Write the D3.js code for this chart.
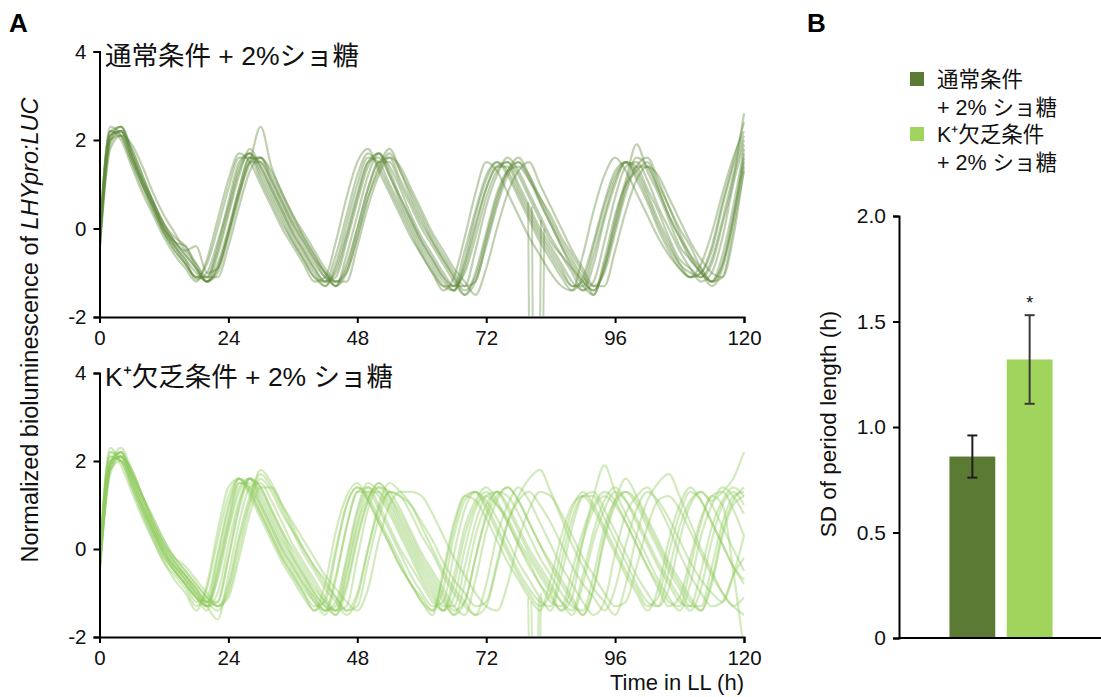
<!DOCTYPE html>
<html><head><meta charset="utf-8">
<script src="https://cdn.jsdelivr.net/npm/d3@7"></script>
<style>
body{margin:0;background:#fff;}
svg{font-family:"Liberation Sans","Noto Sans CJK JP",Arial,sans-serif;}
</style></head>
<body><svg id="c" width="1101" height="697"></svg>
<script>
// ---------- data ----------
const hours = [0,2,4,6,8,10,12,14,16,18,20,22,24,26,28,30,32,34,36,38,40,42,44,46,48,50,52,54,56,58,60,62,64,66,68,70,72,74,76,78,80,82,84,86,88,90,92,94,96,98,100,102,104,106,108,110,112,114,116,118,120];
const xTicks = [0,24,48,72,96,120];
const yTicksA = [-2,0,2,4];

// 通常条件 + 2% ショ糖 (normal)
const n01=[-0.4,2.1,2.2,1.6,1.0,0.5,0.0,-0.4,-0.7,-1.15,-1.0,-0.3,0.5,1.4,1.7,1.3,0.8,0.3,-0.2,-0.6,-1.0,-1.3,-0.9,-0.1,0.8,1.5,1.6,1.2,0.6,0.1,-0.4,-0.8,-1.2,-1.4,-0.8,0.1,0.9,1.4,1.4,0.9,0.4,-0.1,-0.5,-0.9,-1.3,-1.3,-0.6,0.3,1.1,1.5,1.3,0.8,0.2,-0.3,-0.8,-1.0,-1.1,-0.7,0.2,1.2,2.0];
const n02=[-0.3,2.3,2.1,1.5,0.9,0.4,-0.1,-0.5,-0.8,-1.1,-0.8,0.0,0.9,1.6,1.6,1.1,0.6,0.1,-0.3,-0.7,-1.1,-1.2,-0.6,0.3,1.2,1.7,1.4,0.9,0.4,-0.1,-0.6,-1.0,-1.3,-1.3,-0.5,0.4,1.2,1.5,1.2,0.7,0.2,-0.3,-0.7,-1.1,-1.4,-1.1,-0.3,0.6,1.3,1.5,1.1,0.6,0.0,-0.5,-0.9,-1.1,-1.0,-0.4,0.6,1.5,2.4];
const n03=[-0.5,1.9,2.2,1.8,1.2,0.6,0.1,-0.3,-0.6,-0.9,-1.2,-0.8,0.0,0.9,1.6,1.6,1.1,0.6,0.1,-0.3,-0.7,-1.0,-1.3,-0.8,0.0,0.9,1.5,1.6,1.1,0.6,0.1,-0.3,-0.7,-1.1,-1.5,-1.2,-0.4,0.5,1.2,1.5,1.1,0.6,0.1,-0.4,-0.8,-1.2,-1.4,-0.9,0.0,0.9,1.4,1.4,0.9,0.3,-0.2,-0.6,-0.9,-1.2,-0.8,0.3,1.5];
const n04=[-0.2,2.2,2.3,1.7,1.1,0.6,0.0,-0.3,-0.4,-0.9,-1.2,-0.9,-0.1,0.8,1.5,2.3,1.4,0.8,0.3,-0.2,-0.6,-1.0,-1.3,-1.0,-0.2,0.7,1.4,1.8,1.3,0.7,0.2,-0.3,-0.7,-1.1,-1.4,-1.1,-0.2,0.7,1.3,1.6,1.2,0.6,0.1,-0.4,-0.9,-1.3,-1.5,-0.8,0.1,1.0,1.6,1.4,0.9,0.3,-0.2,-0.7,-1.0,-1.2,-0.6,0.5,1.8];
const n05=[-0.4,2.2,2.0,1.4,0.8,0.3,-0.2,-0.6,-0.9,-1.2,-0.7,0.2,1.1,1.7,1.5,1.0,0.5,0.0,-0.4,-0.8,-1.2,-1.1,-0.3,0.7,1.5,1.8,1.3,0.8,0.3,-0.2,-0.6,-1.0,-1.4,-1.1,-0.2,0.8,1.5,1.3,0.8,0.3,-0.2,-0.6,-1.0,-1.3,-1.4,-0.6,0.4,1.2,1.6,1.3,0.8,0.3,-0.2,-0.6,-0.9,-1.1,-0.8,-0.1,0.8,1.6,2.2];
const n06=[-0.6,1.8,2.1,1.9,1.4,0.8,0.3,-0.1,-0.5,-0.8,-1.1,-1.1,-0.4,0.5,1.3,1.6,1.3,0.8,0.3,-0.1,-0.5,-0.9,-1.2,-1.2,-0.4,0.5,1.2,1.6,1.4,0.9,0.4,-0.1,-0.5,-0.9,-1.2,-1.5,-0.9,0.0,0.8,1.3,1.5,1.0,0.5,0.0,-0.5,-0.9,-1.3,-1.3,-0.5,0.4,1.1,1.4,1.2,0.7,0.2,-0.3,-0.7,-1.0,-1.1,-0.2,1.4];
const n07=[-0.3,2.0,2.3,1.7,1.0,0.5,-0.1,-0.4,-0.8,-1.1,-1.1,-0.5,0.4,1.3,1.7,1.4,0.9,0.4,-0.1,-0.5,-0.9,-1.2,-1.1,-0.3,0.6,1.4,1.7,1.3,0.7,0.2,-0.3,-0.7,-1.1,-1.3,-1.0,-0.2,0.7,1.3,1.5,1.2,0.7,0.2,-0.3,-0.6,-0.9,-1.2,-1.4,-0.9,0.2,1.1,1.9,1.3,0.8,0.2,-0.4,-0.7,-1.0,-1.3,-0.9,0.2,1.6];
const n08=[-0.5,2.0,2.1,1.6,1.1,0.6,0.1,-0.2,-0.4,-0.8,-1.2,-1.0,-0.2,0.7,1.5,1.5,1.1,0.6,0.1,-0.3,-0.7,-1.1,-1.2,-0.9,0.0,0.9,1.5,1.5,1.0,0.5,0.0,-0.4,-0.8,-1.2,-1.5,-1.0,-0.1,0.8,1.3,1.4,1.1,0.7,0.3,-0.2,-0.6,-1.0,-1.5,-0.7,0.3,1.0,1.3,1.5,1.0,0.5,-0.1,-0.6,-1.0,-1.2,-0.8,0.2,1.7];
const n09=[-0.2,2.1,2.2,1.6,1.0,0.4,-0.1,-0.5,-0.8,-1.1,-1.1,-0.4,0.6,1.5,1.7,1.2,0.7,0.2,-0.3,-0.7,-1.1,-1.3,-0.8,0.1,1.0,1.6,1.5,1.0,0.5,0.0,-0.5,-0.9,-1.3,-1.4,-0.7,0.3,1.1,1.5,1.3,0.8,0.3,-0.2,-0.6,-1.0,-1.3,-1.2,-0.4,0.5,1.2,1.5,1.2,0.7,0.1,-0.4,-0.8,-1.1,-1.0,-0.5,0.5,1.4,2.1];
const n10=[-0.4,2.0,2.2,1.7,1.1,0.5,0.0,-0.3,-0.5,-0.4,-1.0,-0.9,-0.1,0.9,1.6,1.5,1.0,0.5,0.0,-0.4,-0.8,-1.1,-1.3,-0.6,0.3,1.2,1.7,1.4,0.9,0.3,-0.2,-0.6,-1.0,-1.3,-1.3,-0.5,0.5,1.2,1.6,1.3,0.8,0.3,-0.2,-0.6,-1.0,-1.4,-1.2,-0.3,0.7,1.4,1.5,1.1,0.5,0.0,-0.5,-0.9,-1.2,-1.0,-0.2,1.0,1.9];
const n11=[-0.3,2.2,2.1,1.5,1.0,0.5,0.0,-0.4,-0.7,-1.0,-1.2,-0.6,0.3,1.2,1.8,1.4,0.9,0.4,-0.1,-0.5,-0.9,-1.2,-1.0,-0.2,0.7,1.5,1.7,1.2,0.7,0.2,-0.3,-0.7,-1.1,-1.4,-0.9,0.0,0.9,1.4,1.5,1.0,0.5,0.0,-0.4,-0.8,-1.2,-1.4,-0.8,0.2,1.0,1.5,1.4,0.9,0.4,-0.2,-0.7,-0.9,-1.1,-0.8,0.1,1.1,2.6];
const n12=[-0.5,2.1,2.3,1.8,1.2,0.6,0.1,-0.3,-0.6,-0.9,-1.2,-0.9,-0.1,0.8,1.5,1.6,1.2,0.7,0.2,-0.2,-0.6,-1.0,-1.2,-1.0,-0.2,0.7,1.3,1.7,1.3,0.8,0.3,-0.2,-0.6,-1.0,-1.3,-1.2,-0.3,0.6,1.3,1.5,1.2,0.7,0.2,-0.3,-0.7,-1.1,-1.3,-1.0,-0.1,0.8,1.4,1.6,1.1,0.5,0.0,-0.4,-0.9,-1.2,-1.1,0.0,1.3];
const normalTraces=[n01,n02,n03,n04,n05,n06,n07,n08,n09,n10,n11,n12];
// signal dropouts (time, value) in the normal group
const normalDropA=[[79.8,0.6],[80.0,-2.6],[82.0,-2.6],[82.2,0.2]];
const normalDropB=[[80.5,0.5],[80.7,-2.6],[82.6,-2.6],[82.8,0.0]];

// K+欠乏条件 + 2% ショ糖 (K+ deficient)
const k01=[-0.5,1.9,2.1,1.5,0.9,0.3,-0.2,-0.5,-0.8,-1.1,-1.3,-0.5,0.6,1.5,1.5,1.0,0.5,0.0,-0.4,-0.8,-1.1,-1.4,-1.3,-0.3,0.8,1.4,1.2,0.8,0.3,-0.2,-0.7,-1.1,-1.4,-0.8,0.3,1.0,1.3,1.0,0.6,0.1,-0.4,-0.8,-1.2,-1.3,-0.5,0.4,1.0,1.3,1.1,0.6,0.1,-0.4,-0.9,-1.3,-1.1,-0.2,0.7,1.2,1.3,0.9,0.3];
const k02=[-0.4,2.1,2.0,1.4,0.8,0.2,-0.3,-0.6,-0.9,-1.3,-0.9,0.2,1.2,1.6,1.3,0.8,0.3,-0.2,-0.6,-1.0,-1.4,-1.1,0.0,1.0,1.4,1.1,0.6,0.1,-0.4,-0.8,-1.2,-1.4,-0.6,0.5,1.2,1.3,0.9,0.4,-0.1,-0.6,-1.0,-1.3,-1.0,0.0,0.9,1.3,1.0,0.5,0.0,-0.5,-0.9,-1.3,-1.1,-0.1,0.8,1.3,1.1,0.6,0.1,-0.4,-0.8];
const k03=[-0.6,1.8,2.2,1.7,1.1,0.5,0.0,-0.4,-0.7,-1.0,-1.3,-1.2,-0.2,0.9,1.6,1.4,0.9,0.4,-0.1,-0.5,-0.9,-1.2,-1.5,-0.9,0.2,1.1,1.5,1.2,0.7,0.2,-0.3,-0.7,-1.1,-1.5,-1.2,-0.2,0.8,1.3,1.2,0.8,0.3,-0.2,-0.6,-1.0,-1.3,-1.4,-0.6,0.5,1.1,1.3,1.0,0.5,0.0,-0.5,-0.9,-1.3,-1.3,-0.4,0.6,1.2,1.3];
const k04=[-0.5,1.7,2.1,1.8,1.2,0.6,0.1,-0.3,-0.6,-0.9,-1.2,-1.4,-0.9,0.2,1.1,1.8,1.5,1.0,0.5,0.0,-0.4,-0.8,-1.1,-1.4,-1.3,-0.3,0.7,1.3,1.2,0.8,0.3,-0.1,-0.6,-1.0,-1.3,-1.5,-0.8,0.3,1.0,1.4,1.1,0.6,0.1,-0.4,-0.8,-1.2,-1.5,-1.2,-0.1,0.8,1.2,1.4,1.0,0.5,-0.1,-0.6,-1.0,-1.3,-1.2,-0.6,-0.2];
const k05=[-0.3,2.2,2.0,1.5,0.9,0.4,-0.1,-0.4,-0.6,-1.0,-1.2,-0.7,0.4,1.3,1.6,1.2,0.7,0.2,-0.2,-0.6,-1.0,-1.3,-1.4,-0.5,0.6,1.3,1.3,1.0,0.5,0.0,-0.5,-0.9,-1.3,-1.3,-0.4,0.6,1.2,1.3,0.9,0.4,-0.1,-0.5,-0.9,-1.2,-1.4,-0.6,0.4,1.1,1.4,1.1,0.6,0.1,-0.4,-0.8,-1.2,-1.3,-0.5,0.5,1.1,1.4,1.2];
const k06=[-0.6,2.0,2.2,1.6,1.0,0.4,-0.1,-0.5,-0.8,-1.1,-1.2,-0.2,0.9,1.6,1.4,0.9,0.4,-0.1,-0.5,-0.9,-1.2,-1.5,-0.7,0.5,1.3,1.3,0.9,0.4,-0.1,-0.6,-1.0,-1.3,-1.2,-0.1,0.9,1.3,1.1,0.7,0.2,-0.3,-0.7,-1.1,-1.4,-0.6,0.5,1.2,1.3,0.9,0.4,-0.1,-0.6,-1.0,-1.3,-0.9,0.2,1.0,1.3,1.0,0.5,0.0,-0.5];
const k07=[-0.4,1.9,2.3,1.8,1.2,0.6,0.1,-0.2,-0.4,-0.7,-1.0,-1.3,-1.0,0.0,1.0,1.6,1.3,0.8,0.4,0.0,-0.4,-0.7,-1.1,-1.4,-1.0,0.0,0.9,1.3,1.2,1.0,0.6,0.2,-0.3,-0.7,-1.0,-1.3,-1.2,-0.3,0.6,1.1,1.3,1.0,0.6,0.1,-0.4,-0.8,-1.1,-1.4,-0.9,0.1,0.9,1.3,1.1,0.7,0.2,-0.3,-0.7,-1.0,-1.2,-0.6,0.3];
const k08=[-0.2,2.3,1.9,1.3,0.7,0.2,-0.3,-0.7,-1.0,-1.4,-0.8,0.4,1.4,1.6,1.2,0.7,0.2,-0.3,-0.7,-1.1,-1.4,-0.8,0.4,1.2,1.5,1.1,0.6,0.1,-0.4,-0.8,-1.2,-1.5,-0.5,0.6,1.2,1.1,0.7,0.2,-0.3,-0.7,-1.1,-1.4,-0.7,0.3,1.0,1.2,0.9,0.4,-0.1,-0.6,-1.0,-1.4,-0.9,0.2,1.0,1.4,1.1,0.6,0.1,-0.4,-0.7];
const k09=[-0.5,1.8,2.0,1.7,1.2,0.7,0.2,-0.2,-0.5,-0.8,-1.1,-1.3,-0.8,0.3,1.2,1.7,1.4,0.9,0.4,-0.1,-0.5,-0.9,-1.2,-1.5,-1.1,0.0,1.0,1.5,1.3,1.0,0.5,0.0,-0.5,-0.9,-1.2,-1.5,-1.3,-0.4,0.6,1.2,1.6,1.8,1.3,0.7,0.1,-0.4,-0.9,-1.2,-1.5,-0.8,0.3,1.1,1.5,1.7,1.2,0.6,0.0,-0.5,-1.0,-1.3,-1.5];
const k10=[-0.3,2.0,2.1,1.5,0.9,0.4,-0.1,-0.4,-0.7,-1.1,-1.4,-0.6,0.5,1.4,1.6,1.1,0.6,0.1,-0.3,-0.7,-1.1,-1.4,-1.2,-0.2,0.9,1.5,1.3,0.9,0.4,-0.1,-0.6,-1.0,-1.4,-1.1,0.0,0.9,1.2,1.0,0.7,0.2,-0.2,-0.6,-1.0,-1.4,-1.1,0.2,1.2,1.9,1.3,0.8,0.3,-0.2,-0.7,-1.1,-1.4,-0.8,0.3,1.0,1.4,1.2,0.8];
const k11=[-0.4,2.1,2.0,1.4,0.8,0.3,-0.2,-0.5,-0.8,-1.2,-1.1,-0.1,1.0,1.6,1.3,0.8,0.3,-0.2,-0.6,-1.0,-1.3,-1.2,-0.1,1.0,1.4,1.2,0.7,0.2,-0.3,-0.8,-1.1,-1.4,-0.9,0.3,1.1,1.3,1.0,0.5,0.0,-0.5,-0.9,-1.2,-1.3,-0.3,0.7,1.2,1.2,0.7,0.2,-0.3,-0.8,-1.2,-1.3,-0.5,0.5,1.1,1.3,1.1,1.3,1.6,2.2];
const k12=[-0.6,1.8,2.1,1.8,1.2,0.6,0.1,-0.3,-0.6,-0.9,-1.3,-1.6,-0.6,0.6,1.4,1.5,1.1,0.6,0.1,-0.3,-0.7,-1.1,-1.4,-1.3,-0.2,0.9,1.4,1.3,0.9,0.4,-0.1,-0.5,-0.9,-1.3,-1.5,-0.7,0.4,1.1,1.4,1.1,0.6,0.1,-0.4,-0.8,-1.2,-1.5,-0.9,0.2,1.0,1.3,1.1,0.6,0.1,-0.4,-0.8,-1.2,-1.4,-0.7,0.4,1.1,1.4];
const k13=[-0.5,1.9,2.2,1.7,1.2,0.7,0.2,-0.2,-0.5,-0.8,-1.1,-1.3,-1.1,-0.2,0.8,1.4,1.4,1.0,0.6,0.2,-0.2,-0.6,-0.9,-1.2,-1.4,-0.9,0.2,1.0,1.3,1.3,1.2,0.8,0.3,-0.2,-0.6,-1.0,-1.3,-1.4,-0.8,0.2,0.9,1.3,1.2,0.8,0.3,-0.2,-0.6,-1.0,-1.3,-1.2,-0.4,0.5,1.1,1.2,0.9,0.4,-0.1,-0.6,-1.0,-1.3,-1.1];
const k14=[-0.4,2.0,2.1,1.6,1.0,0.4,-0.1,-0.5,-0.8,-1.1,-1.3,-0.4,0.7,1.5,1.4,1.0,0.5,0.0,-0.4,-0.8,-1.2,-1.4,-0.6,0.5,1.3,1.4,1.0,0.5,0.0,-0.4,-0.8,-1.2,-1.4,-0.6,0.5,1.1,1.4,1.1,0.6,0.1,-0.3,-0.8,-1.1,-1.4,-0.8,0.2,0.9,1.2,1.0,0.6,0.1,-0.4,-0.8,-1.2,-1.3,-0.4,0.6,1.2,1.0,-0.5,-2.3];
const k15=[-0.5,1.9,2.2,1.7,1.1,0.5,0.0,-0.4,-0.7,-1.0,-1.3,-1.0,0.1,1.1,1.6,1.3,0.8,0.3,-0.2,-0.6,-1.0,-1.3,-1.5,-0.6,0.5,1.2,1.4,1.1,0.6,0.1,-0.4,-0.8,-1.2,-1.5,-0.8,0.3,1.0,1.3,1.0,0.5,0.0,-0.4,-0.8,-1.2,-1.5,-0.8,0.2,0.9,1.3,1.1,0.7,0.2,-0.3,-0.7,-1.1,-1.4,-0.9,0.2,1.0,1.3,1.0];
const k16=[-0.4,2.2,2.1,1.6,1.0,0.5,0.0,-0.3,-0.6,-0.9,-1.2,-1.2,-0.2,1.0,1.6,1.4,0.9,0.4,0.0,-0.4,-0.8,-1.2,-1.4,-0.8,0.3,1.1,1.5,1.2,0.8,0.3,-0.2,-0.6,-1.0,-1.4,-1.2,-0.2,0.7,1.2,1.4,1.1,0.6,0.1,-0.3,-0.7,-1.1,-1.5,-0.9,0.3,1.1,1.6,1.2,0.7,0.2,-0.3,-0.7,-1.1,-1.4,-0.8,0.3,1.0,1.2];
const kTraces=[k01,k02,k03,k04,k05,k06,k07,k08,k09,k10,k11,k12,k13,k14,k15,k16];
const kDropA=[[79.8,-1.1],[80.0,-2.6],[82.0,-2.6],[82.2,-1.0]];
const kDropB=[[80.4,-1.2],[80.6,-2.6],[81.6,-2.6],[81.8,-1.1]];

// Panel B
const groups=["通常条件 + 2% ショ糖","K⁺欠乏条件 + 2% ショ糖"];
const sdValues=[0.86,1.32];
const sdErrors=[0.10,0.21];
const yTicksB=[0,0.5,1.0,1.5,2.0];
const yTickLabelsB=["0","0.5","1.0","1.5","2.0"];

// ---------- drawing ----------
const svg=d3.select("#c");
const darkLine="#5e8a3a", lightLine="#8fca5c";
const darkBar="#5b7b35", lightBar="#a0d45c";
const FS=20.5;

const x=d3.scaleLinear().domain([0,120]).range([99.5,744]);
const yTop=d3.scaleLinear().domain([-2,4]).range([317,51.5]);
const yBot=d3.scaleLinear().domain([-2,4]).range([637,373]);

svg.append("defs").call(d=>{
  d.append("clipPath").attr("id","clipTop").append("rect").attr("x",99.5).attr("y",30).attr("width",650).attr("height",286);
  d.append("clipPath").attr("id","clipBot").append("rect").attr("x",99.5).attr("y",350).attr("width",650).attr("height",286);
});

function panel(y,traces,drops,color,clip,title,titleY){
  const g=svg.append("g");
  const line=d3.line().x((d,i)=>x(hours[i])).y(d=>y(d)).curve(d3.curveMonotoneX);
  const lineXY=d3.line().x(d=>x(d[0])).y(d=>y(d[1]));
  const lg=g.append("g").attr("clip-path",`url(#${clip})`);
  lg.selectAll("path.tr").data(traces).join("path").attr("class","tr")
    .attr("d",line).attr("fill","none").attr("stroke",color)
    .attr("stroke-width",2.2).attr("stroke-opacity",0.4).attr("stroke-linejoin","round");
  lg.selectAll("path.dr").data(drops).join("path").attr("class","dr")
    .attr("d",lineXY).attr("fill","none").attr("stroke",color)
    .attr("stroke-width",2).attr("stroke-opacity",0.38);
  const ya=g.append("g").attr("transform","translate(99.5,0)")
    .call(d3.axisLeft(y).tickValues(yTicksA).tickSize(6).tickPadding(7).tickFormat(d=>String(d)));
  const xa=g.append("g").attr("transform",`translate(0,${y(-2)})`)
    .call(d3.axisBottom(x).tickValues(xTicks).tickSize(6).tickPadding(7).tickFormat(d=>String(d)));
  [ya,xa].forEach(a=>{
    a.select(".domain").attr("stroke","#000").attr("stroke-width",2);
    a.selectAll(".tick line").attr("stroke","#000").attr("stroke-width",2);
    a.selectAll(".tick text").attr("font-size",FS).attr("fill","#111").attr("font-family","Liberation Sans, Arial, sans-serif");
  });
  g.append("text").attr("x",105).attr("y",titleY).attr("font-size",26.5).attr("fill","#111").text(title);
}
panel(yTop,normalTraces,[normalDropA,normalDropB],darkLine,"clipTop","通常条件 + 2%ショ糖",65);
panel(yBot,kTraces,[kDropA,kDropB],lightLine,"clipBot","K⁺欠乏条件 + 2% ショ糖",386);

// axis titles panel A
svg.append("text").attr("transform","translate(38,330) rotate(-90)").attr("text-anchor","middle")
  .attr("font-size",23.5).attr("fill","#111")
  .call(t=>{t.append("tspan").text("Normalized bioluminescence of ");
            t.append("tspan").attr("font-style","italic").text("LHYpro:LUC");});
svg.append("text").attr("x",744).attr("y",690).attr("text-anchor","end").attr("font-size",22).attr("fill","#111").text("Time in LL (h)");

// panel letters
svg.append("text").attr("x",9).attr("y",32).attr("font-size",26).attr("font-weight","bold").text("A");
svg.append("text").attr("x",807).attr("y",32).attr("font-size",26).attr("font-weight","bold").text("B");

// ---------- panel B ----------
const yB=d3.scaleLinear().domain([0,2]).range([638,216]);
const xB=d3.scaleBand().domain(groups).range([938,1064]).paddingInner(0.2).paddingOuter(0.2);
const gB=svg.append("g");
gB.selectAll("rect.bar").data(groups).join("rect").attr("class","bar")
  .attr("x",d=>xB(d)).attr("width",xB.bandwidth())
  .attr("y",(d,i)=>yB(sdValues[i])).attr("height",(d,i)=>yB(0)-yB(sdValues[i]))
  .attr("fill",(d,i)=>i===0?darkBar:lightBar);
const errColor=["#1e1e1e","#3a3a3a"];
groups.forEach((gname,i)=>{
  const cx=xB(gname)+xB.bandwidth()/2;
  const lo=yB(sdValues[i]-sdErrors[i]), hi=yB(sdValues[i]+sdErrors[i]);
  gB.append("line").attr("x1",cx).attr("x2",cx).attr("y1",lo).attr("y2",hi).attr("stroke",errColor[i]).attr("stroke-width",2);
  [lo,hi].forEach(yy=>gB.append("line").attr("x1",cx-5).attr("x2",cx+5).attr("y1",yy).attr("y2",yy).attr("stroke",errColor[i]).attr("stroke-width",2));
});
gB.append("text").attr("x",xB(groups[1])+xB.bandwidth()/2).attr("y",yB(sdValues[1]+sdErrors[1])-6)
  .attr("text-anchor","middle").attr("font-size",18).attr("fill","#111").text("*");
const yaB=gB.append("g").attr("transform","translate(899,0)")
  .call(d3.axisLeft(yB).tickValues(yTicksB).tickSize(6).tickPadding(7).tickFormat((d,i)=>yTickLabelsB[i]));
yaB.select(".domain").attr("stroke","#000").attr("stroke-width",2);
yaB.selectAll(".tick line").attr("stroke","#000").attr("stroke-width",2);
yaB.selectAll(".tick text").attr("font-size",21).attr("fill","#111").attr("font-family","Liberation Sans, Arial, sans-serif");
gB.append("line").attr("x1",899).attr("x2",1101).attr("y1",yB(0)).attr("y2",yB(0)).attr("stroke","#000").attr("stroke-width",2);
svg.append("text").attr("transform","translate(836,424) rotate(-90)").attr("text-anchor","middle")
  .attr("font-size",22.5).attr("fill","#111").text("SD of period length (h)");

// legend
const legendLines=[["通常条件","+ 2% ショ糖"],["K⁺欠乏条件","+ 2% ショ糖"]];
legendLines.forEach((lines,i)=>{
  const y0=72+i*55;
  svg.append("rect").attr("x",910).attr("y",y0).attr("width",14).attr("height",14).attr("fill",i===0?darkBar:lightBar);
  lines.forEach((t,j)=>svg.append("text").attr("x",937).attr("y",y0+15+j*28).attr("font-size",21.5).attr("fill","#111").text(t));
});
</script></body></html>
